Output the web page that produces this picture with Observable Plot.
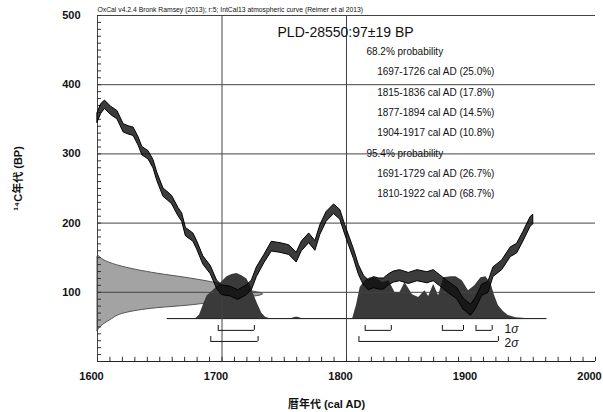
<!DOCTYPE html>
<html><head><meta charset="utf-8">
<script src="https://cdn.jsdelivr.net/npm/d3@7"></script>
<script src="https://cdn.jsdelivr.net/npm/@observablehq/plot@0.6"></script>
<style>body{margin:0;background:#fff}</style>
</head><body><div id="chart"></div>
<script>
// IntCal13 calibration curve band (cal AD, BP, ±1σ)
const curveYear = [1600,1603,1606,1611,1616,1621,1625,1629,1633,1636,
 1641,1645,1648,1653,1657,1660,1665,1668,1671,1677,
 1680,1685,1691,1696,1700,1707,1713,1720,1724,1728,
 1734,1740,1747,1754,1760,1764,1770,1775,1779,1784,
 1790,1795,1799,1806,1810,1814,1818,1822,1826,1830,
 1834,1838,1843,1850,1857,1865,1870,1875,1882,1889,
 1894,1900,1904,1909,1914,1918,1925,1932,1937,1942,
 1948,1950];
const curveBP = [352,365,371,362,356,337,334,332,318,304,
 298,285,267,244,238,233,216,208,187,179,
 168,146,132,111,103,101,96,103,110,129,
 148,166,164,161,150,166,178,167,190,209,
 220,212,190,155,132,117,110,114,112,112,
 118,122,124,120,124,121,124,117,107,98,
 83,74,84,103,107,129,139,158,163,180,
 202,205];
const curveErr = [7,7,6,6,6,6,6,6,6,6,
 6,6,6,6,6,6,6,6,6,6,
 6,6,6,6,7,7,7,7,7,7,
 6,7,7,7,7,7,7,7,7,7,
 7,7,7,7,7,7,7,8,8,8,
 8,8,8,8,8,8,8,8,8,8,
 8,8,8,8,8,7,7,7,7,7,
 7,7];

// Calibrated (posterior) probability, relative height
const postYear = [1679,1682,1685,1688,1692,1696,1700,1704,1708,1712,1716,1720,1723,1726,1729,1732,1735,1738,
 1756,1759,1761,1764,
 1805,1808,1811,1815,1819,1824,1829,1834,1839,1843,1847,1853,1858,1863,1866,1870,1874,
 1878,1884,1888,1893,1898,1903,1908,1912,1916,1919,1922,1926,1930,1936,1944];
const postP = [0,0.08,0.3,0.5,0.6,0.7,0.82,0.93,0.98,1.0,0.95,0.88,0.72,0.5,0.3,0.12,0.03,0,
 0,0.03,0.03,0,
 0,0.29,0.69,0.84,0.91,0.89,0.8,0.84,0.58,0.58,0.8,0.53,0.47,0.62,0.49,0.76,0.51,
 0.91,0.93,0.93,0.84,0.62,0.73,0.91,0.93,0.78,0.51,0.29,0.16,0.07,0.02,0];
const postSpan = [1656, 1961];

// Measured radiocarbon date 97±19 BP, relative width
const gaussBP = [44,50,60,70,77,81,86,92,97,103,108,113,120,127,137,145,152];
const gaussP  = [0,0.02,0.08,0.17,0.36,0.56,0.72,0.9,1,0.9,0.8,0.72,0.56,0.36,0.15,0.05,0.01];

const sigma1 = [[1697,1726],[1815,1836],[1877,1894],[1904,1917]];
const sigma2 = [[1691,1729],[1810,1922]];

const headerText = "OxCal v4.2.4 Bronk Ramsey (2013); r:5; IntCal13 atmospheric curve (Reimer et al 2013)";
const titleText = "PLD-28550:97±19 BP";
const legendLines = ["68.2% probability","1697-1726 cal AD (25.0%)","1815-1836 cal AD (17.8%)",
 "1877-1894 cal AD (14.5%)","1904-1917 cal AD (10.8%)","95.4% probability",
 "1691-1729 cal AD (26.7%)","1810-1922 cal AD (68.7%)"];
const xTicks = [1600,1700,1800,1900,2000];
const yTicks = [100,200,300,400,500];
const gridY = [100,200,300,400,500];
const gridX = [1600,1700,1800];
const xLabel = "暦年代 (cal AD)";
const yLabel = "¹⁴C年代 (BP)";

const curve = curveYear.map((year,i)=>({year, bp: curveBP[i], err: curveErr[i]}));
const post = postYear.map((year,i)=>({year, p: postP[i]}));
const gauss = gaussBP.map((bp,i)=>({bp, p: gaussP[i]}));
const legend = legendLines.map((t,i)=>({t, i, head: t.includes("probability")}));
const postBase = 62, postScale = 65;
const minorX = d3.range(1600, 2001, 10);
const minorY = d3.range(0, 501, 10);

const font = "'Liberation Sans','Noto Sans CJK JP',sans-serif";
const chart = Plot.plot({
  width: 603, height: 412,
  marginTop: 15, marginBottom: 51, marginLeft: 97, marginRight: 8,
  x: {domain: [1600, 2000]},
  y: {domain: [0, 500]},
  style: {fontFamily: font, background: "#fff", color: "#111"},
  marks: [
    Plot.areaX(gauss, {y: "bp", x1: 1600, x2: d => 1600 + d.p * 133, fill: "#a3a3a3", stroke: "#555", strokeWidth: 1, curve: "monotone-y"}),
    Plot.areaY(post, {x: "year", y1: postBase, y2: d => postBase + d.p * postScale, fill: "#3a3a3a"}),
    Plot.ruleY([postBase], {x1: postSpan[0], x2: postSpan[1], stroke: "#111"}),
    Plot.ruleY(gridY, {stroke: "#444"}),
    Plot.ruleX(gridX, {stroke: "#444"}),
    Plot.ruleY([0], {stroke: "#222"}),
    Plot.ruleY(minorY, {x1: 1600, x2: 1603.2, stroke: "#333"}),
    Plot.ruleX(minorX, {y1: 0, y2: 6, stroke: "#333"}),
    Plot.areaY(curve, {x: "year", y1: d => d.bp - d.err, y2: d => d.bp + d.err, fill: "#111", fillOpacity: 0.82, stroke: "#000", strokeWidth: 1}),
    Plot.ruleY(sigma1, {y: 45, x1: d => d[0], x2: d => d[1], stroke: "#111"}),
    Plot.ruleX(sigma1.flat(), {y1: 45, y2: 52, stroke: "#111"}),
    Plot.ruleY(sigma2, {y: 29, x1: d => d[0], x2: d => d[1], stroke: "#111"}),
    Plot.ruleX(sigma2.flat(), {y1: 29, y2: 36, stroke: "#111"}),
    Plot.text(["1σ"], {x: 1927, y: 47, textAnchor: "start", fontSize: 12}),
    Plot.text(["2σ"], {x: 1927, y: 26, textAnchor: "start", fontSize: 12}),
    Plot.text(legend, {text: "t", x: d => d.head ? 1816 : 1824.6, y: d => 447.6 - d.i * 29.4, textAnchor: "start", fontSize: 10}),
    Plot.text([titleText], {x: 1744.6, y: 476, textAnchor: "start", fontSize: 14}),
    Plot.text([headerText], {frameAnchor: "top-left", dy: -8, textAnchor: "start", fontSize: 6.8}),
    Plot.axisX(xTicks, {tickSize: 0, tickPadding: 11, fontSize: 11, fontWeight: "bold", dx: -6, tickFormat: d => String(d), label: null}),
    Plot.axisY(yTicks, {tickSize: 0, tickPadding: 17, fontSize: 11, fontWeight: "bold", tickFormat: d => String(d), label: null}),
    Plot.text([yLabel], {frameAnchor: "left", dx: -79, dy: -10, rotate: -90, textAnchor: "middle", lineAnchor: "middle", fontSize: 11, fontWeight: "bold"}),
    Plot.text([xLabel], {frameAnchor: "bottom", dx: -20, dy: 43, textAnchor: "middle", lineAnchor: "middle", fontSize: 11, fontWeight: "bold"})
  ]
});
d3.select(chart).selectAll("text").filter(function(){ return /^[12]σ$/.test(this.textContent); })
  .each(function(){ const t = this.textContent; this.textContent = t[0]; d3.select(this).append("tspan").attr("font-style","italic").text("σ"); });
document.getElementById("chart").appendChild(chart);
</script>
</body></html>
